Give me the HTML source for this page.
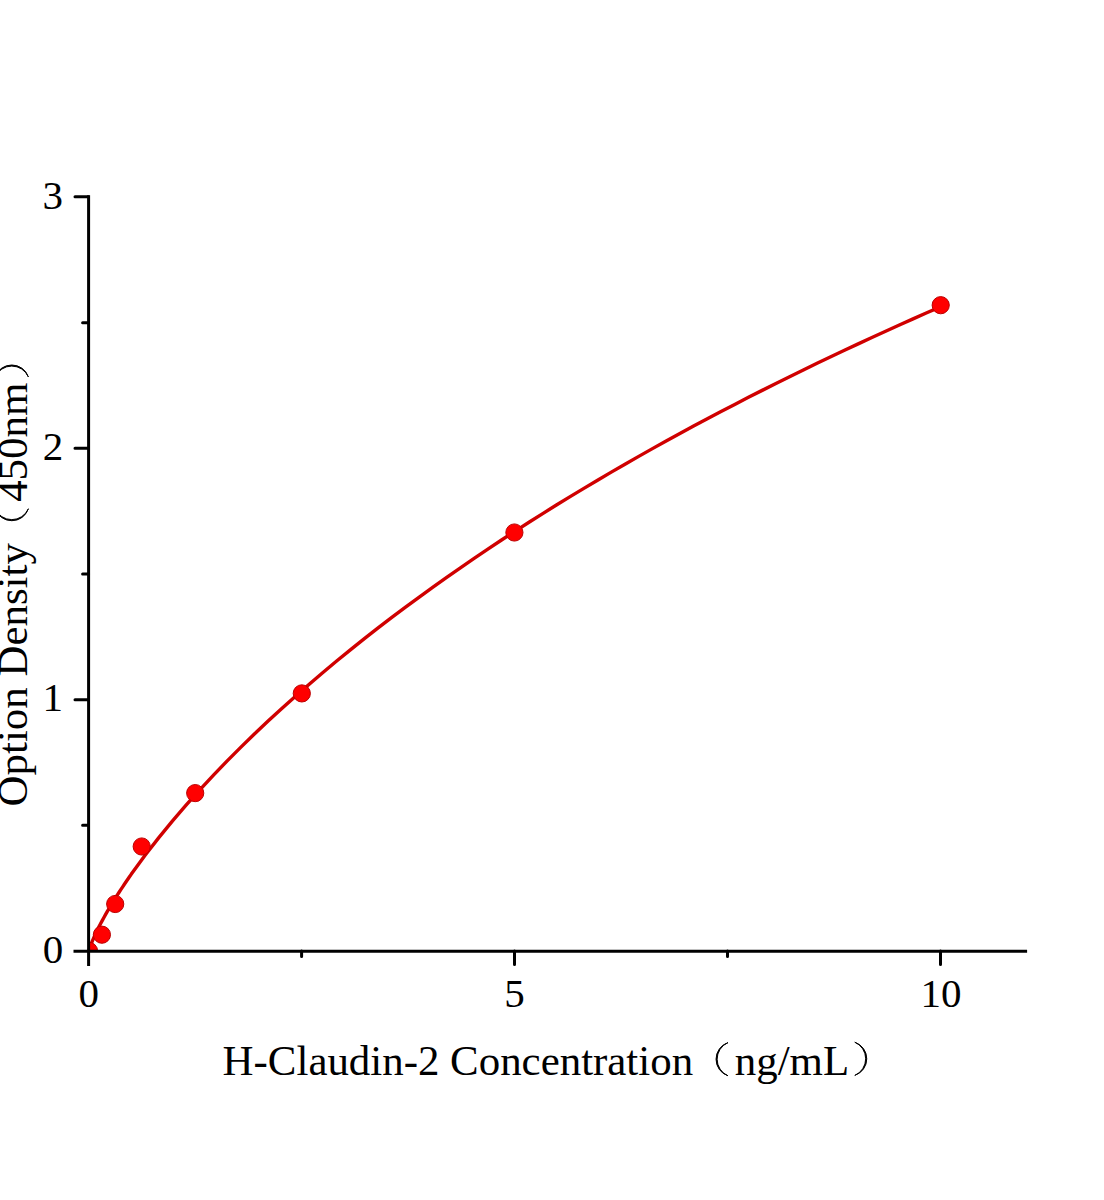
<!DOCTYPE html>
<html><head><meta charset="utf-8">
<style>
html,body{margin:0;padding:0;background:#fff;width:1104px;height:1200px;overflow:hidden}
svg{display:block}
text{font-family:"Liberation Serif",serif;fill:#000}
</style></head><body>
<svg width="1104" height="1200" viewBox="0 0 1104 1200">
<defs><clipPath id="plot"><rect x="88.6" y="150" width="940" height="801.1"/></clipPath></defs>
<rect width="1104" height="1200" fill="#fff"/>
<!-- curve -->
<polyline fill="none" stroke="#d00000" stroke-width="3.4" stroke-linejoin="round" points="88.60,951.10 89.03,950.37 89.45,948.90 89.88,947.57 90.30,946.33 92.01,941.86 93.71,937.83 95.42,934.07 97.12,930.51 98.82,927.09 100.53,923.79 102.23,920.59 103.93,917.47 105.64,914.43 107.34,911.45 109.05,908.54 110.75,905.68 112.45,902.86 114.16,900.10 115.86,897.37 117.56,894.69 119.27,892.04 120.97,889.43 122.68,886.85 124.38,884.30 126.08,881.78 127.79,879.28 129.49,876.82 131.19,874.37 144.91,855.53 158.63,837.85 172.35,821.11 186.06,805.15 199.78,789.84 213.50,775.11 227.21,760.89 240.93,747.12 254.65,733.78 268.37,720.81 282.08,708.19 295.80,695.90 309.52,683.92 323.23,672.21 336.95,660.78 350.67,649.59 364.38,638.65 378.10,627.92 391.82,617.42 405.54,607.12 419.25,597.01 432.97,587.09 446.69,577.34 460.40,567.77 474.12,558.37 487.84,549.12 501.55,540.02 515.27,531.07 528.99,522.26 542.71,513.59 556.42,505.05 570.14,496.64 583.86,488.35 597.57,480.18 611.29,472.13 625.01,464.19 638.73,456.36 652.44,448.64 666.16,441.02 679.88,433.50 693.59,426.08 707.31,418.76 721.03,411.53 734.74,404.39 748.46,397.34 762.18,390.37 775.90,383.49 789.61,376.69 803.33,369.97 817.05,363.33 830.76,356.76 844.48,350.27 858.20,343.86 871.91,337.51 885.63,331.24 899.35,325.03 913.07,318.90 926.78,312.82 940.50,306.82"/>
<!-- markers -->
<g fill="#ff0000" stroke="#bb0000" stroke-width="1">
<circle cx="88.6" cy="951.1" r="9" clip-path="url(#plot)"/>
<circle cx="101.9" cy="934.7" r="8.6"/>
<circle cx="115.2" cy="904" r="8.6"/>
<circle cx="141.7" cy="846.5" r="8.6"/>
<circle cx="195.2" cy="793.1" r="8.6"/>
<circle cx="301.8" cy="693.4" r="8.6"/>
<circle cx="514.4" cy="532.5" r="8.6"/>
<circle cx="940.7" cy="305.2" r="8.6"/>
</g>
<!-- axes -->
<g stroke="#000" stroke-width="3" fill="none">
<path d="M88.6 195.2 V965.9"/>
<path d="M73.5 951.35 H1027.1"/>
<path d="M75 196.7 H88.6 M75 448.3 H88.6 M75 699.8 H88.6" stroke-linecap="round"/>
<path d="M82.6 322.85 H88.6 M82.6 574.1 H88.6 M82.6 825.35 H88.6" stroke-linecap="round"/>
<path d="M514.5 951.1 V964.4 M940.5 951.1 V964.4" stroke-linecap="round"/>
<path d="M301.6 951.1 V956.6 M727.5 951.1 V956.6" stroke-linecap="round"/>
</g>
<!-- tick labels -->
<g font-size="41" text-anchor="end">
<text x="63" y="208.5">3</text>
<text x="63.2" y="459.8">2</text>
<text x="63" y="711.4">1</text>
<text x="63.2" y="963">0</text>
</g>
<g font-size="41" text-anchor="middle">
<text x="88.7" y="1007.3">0</text>
<text x="514.5" y="1007.3">5</text>
<text x="941" y="1007.3">10</text>
</g>
<!-- x title -->
<text font-size="42.9" x="222.6" y="1074.6">H-Claudin-2 Concentration</text>
<text font-size="42.9" x="734.8" y="1074.6">ng/mL</text>
<path d="M728 1042.6 A17.5 17.5 0 0 0 728 1075.8 A18.1 18.1 0 0 1 728 1042.6Z" fill="#000" stroke="#000" stroke-width="1"/>
<path d="M854.8 1042.2 A17.5 17.5 0 0 1 854.8 1075.4 A18.1 18.1 0 0 0 854.8 1042.2Z" fill="#000" stroke="#000" stroke-width="1"/>
<!-- y title -->
<g transform="translate(27,805.25) rotate(-90)">
<text font-size="42.9" x="-1.2" y="0">Option Density</text>
<text font-size="42.9" x="303.4" y="0">450nm</text>
<path d="M296.5 -31.8 A17.5 17.5 0 0 0 296.5 1.4 A18.1 18.1 0 0 1 296.5 -31.8Z" fill="#000" stroke="#000" stroke-width="1"/>
<path d="M428.3 -31.8 A17.5 17.5 0 0 1 428.3 1.4 A18.1 18.1 0 0 0 428.3 -31.8Z" fill="#000" stroke="#000" stroke-width="1"/>
</g>
</svg>
</body></html>
